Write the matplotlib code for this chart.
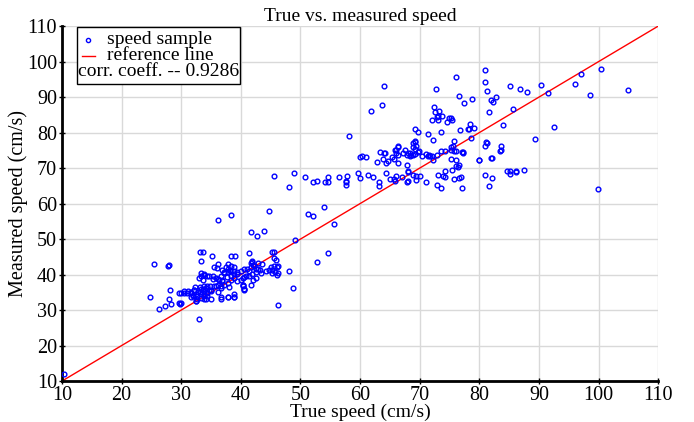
import matplotlib
matplotlib.use('Agg')
import matplotlib.pyplot as plt
from matplotlib.lines import Line2D
from matplotlib.patches import Rectangle
import numpy as np

plt.rcParams['font.family'] = ['Liberation Serif', 'DejaVu Serif']

# (true speed, measured speed) pairs
samples = [
    (10.3, 12.0),
    # low-speed cluster
    (24.8, 33.6), (25.5, 43.0), (26.3, 30.4), (27.2, 31.2), (27.9, 33.1), (28.3, 31.6), (28.2, 35.6),
    (27.8, 42.5), (28.0, 42.8), (29.7, 32.1), (29.8, 31.7), (29.6, 34.7), (30.0, 34.7), (30.4, 35.3),
    (31.0, 34.8), (31.7, 35.0), (32.3, 36.5), (33.1, 36.6), (32.1, 35.6), (32.4, 34.6), (32.9, 35.0),
    (33.3, 34.4), (33.8, 35.3), (34.4, 33.9), (34.1, 33.2), (33.3, 36.0), (33.8, 36.8), (34.6, 35.8),
    (33.0, 27.5), (33.2, 46.3), (33.6, 46.3), (33.4, 43.8), (35.1, 45.2), (38.4, 45.2), (39.0, 45.2),
    (41.3, 46.1), (41.8, 43.5), (41.9, 43.8), (45.5, 46.3), (31.7, 33.6), (31.9, 34.2), (32.4, 32.5),
    (32.7, 33.1), (35.5, 42.2), (36.1, 43.1), (36.0, 41.8), (37.8, 43.1), (38.3, 42.5), (38.8, 42.2),
    (38.2, 41.4), (36.9, 41.2), (37.2, 40.5), (37.8, 40.7), (38.9, 40.9), (39.4, 40.3), (41.7, 43.3),
    (42.1, 42.8), (42.8, 43.3), (43.6, 43.1), (43.2, 41.4), (42.5, 41.6), (41.4, 40.9), (45.0, 42.2),
    (45.6, 42.5), (46.1, 42.2), (45.3, 40.5), (46.1, 40.0), (46.3, 40.5), (33.3, 40.5), (33.9, 40.0),
    (33.0, 39.1), (33.7, 38.6), (34.4, 39.5), (35.3, 39.7), (35.8, 39.1), (36.4, 38.4), (36.9, 38.6),
    (37.2, 37.2), (37.8, 37.7), (36.6, 36.7), (38.3, 38.6), (38.9, 39.1), (39.4, 38.1), (40.3, 39.1),
    (40.8, 39.5), (31.1, 35.3), (31.7, 34.8), (32.2, 35.8), (32.0, 33.9), (30.5, 34.8), (32.7, 33.9),
    (33.3, 33.4), (33.9, 34.4), (34.4, 34.8), (35.0, 35.8), (34.2, 36.2), (34.9, 36.7), (35.5, 36.7),
    (36.1, 37.2), (36.6, 36.2), (32.5, 32.5), (33.9, 33.0), (35.0, 33.1), (36.6, 33.1), (37.8, 33.7),
    (38.9, 33.7), (40.3, 36.7), (40.5, 35.8), (42.0, 38.6), (42.5, 39.1), (43.4, 40.5), (44.2, 40.9),
    (44.7, 41.4), (41.7, 37.2), (30.0, 32.0), (46.3, 31.4), (40.0, 38.5), (40.4, 37.1), (40.6, 35.9),
    (37.5, 42.2), (37.9, 41.7), (38.2, 41.0), (37.2, 40.6), (36.7, 39.6), (36.2, 38.7), (36.9, 38.2),
    (37.7, 39.2), (38.3, 39.6), (38.9, 40.1), (39.4, 40.6), (40.0, 41.0), (40.6, 41.5), (41.0, 41.7),
    (41.7, 42.2), (42.2, 42.4), (42.8, 41.7), (42.5, 40.6), (41.9, 40.1), (41.4, 39.6), (40.6, 39.2),
    (34.4, 36.8), (35.0, 35.4), (33.9, 34.0), (36.1, 35.0), (36.7, 33.6), (37.8, 33.8), (38.9, 34.5),
    (38.8, 33.8), (40.6, 35.9), (40.4, 37.0), (38.1, 36.4), (35.8, 36.8), (33.6, 35.9), (33.1, 35.0),
    (34.7, 39.6), (35.3, 38.7), (33.9, 40.1), (33.3, 39.6),
    # between the clusters
    (36.1, 55.4), (38.4, 56.7), (44.7, 57.8), (51.2, 57.1), (41.7, 51.9), (42.7, 50.8), (43.9, 52.3),
    (49.1, 49.8), (45.3, 46.4), (45.6, 44.6), (45.9, 44.1), (46.3, 42.3), (45.2, 41.4), (45.7, 40.7),
    (48.1, 41.0), (48.8, 36.3), (52.1, 56.4), (54.0, 59.1), (55.6, 54.3), (54.6, 46.2), (52.8, 43.5),
    # y ~ 65-70 band
    (45.5, 67.8), (49.0, 68.7), (48.1, 64.6), (50.7, 67.5), (52.1, 66.2), (52.8, 66.5), (54.2, 66.1),
    (54.6, 66.0), (54.7, 67.5), (56.5, 67.5), (57.6, 66.4), (57.8, 67.8), (57.7, 65.3), (57.6, 66.0),
    (59.7, 68.7), (60.0, 67.1), (61.3, 68.1), (62.1, 67.5), (63.1, 66.2), (63.2, 65.0), (64.3, 68.6),
    (65.0, 66.9), (65.7, 67.0), (66.1, 67.8), (65.8, 66.3), (67.1, 67.5), (68.0, 66.3), (67.9, 70.8),
    (68.1, 68.9), (67.8, 66.2), (68.0, 69.1), (68.9, 68.0), (73.1, 68.1), (73.9, 67.7), (69.4, 67.7),
    (70.0, 67.7), (69.4, 66.7), (71.1, 66.2), (72.9, 65.3), (73.6, 64.4), (74.3, 67.6), (74.3, 69.1),
    (75.5, 69.4), (76.5, 70.3), (76.6, 70.8), (76.6, 67.3), (77.0, 67.6), (77.1, 64.4), (75.7, 67.0),
    (80.0, 72.2), (80.9, 68.2), (81.6, 64.9), (82.2, 67.2), (82.1, 72.9), (84.6, 69.3), (85.2, 69.1),
    (85.2, 68.4), (86.1, 69.2), (86.2, 68.8), (87.5, 69.5), (99.9, 64.2),
    # high-speed cluster
    (58.2, 79.0), (61.8, 86.2), (63.6, 87.9), (64.1, 93.0), (72.7, 92.3), (76.1, 95.8), (76.6, 90.3),
    (77.4, 88.3), (72.4, 87.1), (73.3, 86.0), (72.9, 84.5), (73.8, 84.8), (72.1, 83.5), (73.0, 83.5),
    (75.0, 84.0), (75.4, 83.5), (74.6, 82.9), (75.3, 84.2), (76.7, 80.8), (78.1, 81.0), (72.5, 85.9),
    (73.1, 84.7), (69.2, 81.0), (69.7, 80.2), (71.4, 79.7), (72.2, 78.0), (73.6, 80.2), (75.8, 77.7),
    (77.1, 74.5), (74.2, 74.7), (75.2, 75.9), (69.2, 77.6), (69.4, 76.1), (68.9, 75.9), (67.5, 75.1),
    (66.4, 75.9), (66.0, 75.1), (66.4, 73.7), (65.4, 73.1), (65.7, 72.7), (64.2, 74.4), (63.3, 74.5),
    (63.8, 72.6), (62.8, 71.6), (64.4, 71.4), (64.7, 72.1), (60.0, 73.1), (60.4, 73.3), (61.0, 73.0),
    (67.2, 74.2), (67.9, 73.8), (68.3, 74.4), (68.4, 73.3), (68.8, 73.8), (69.3, 74.0), (69.7, 74.6),
    (70.4, 73.3), (71.1, 74.0), (71.4, 73.5), (71.7, 73.3), (72.2, 72.4), (66.4, 71.4), (75.8, 74.7),
    (76.1, 72.4), (76.1, 70.5), (71.6, 73.7), (72.0, 73.3), (72.9, 73.7), (73.6, 74.7), (75.3, 75.1),
    (76.1, 74.7), (77.3, 74.4), (75.6, 76.1), (75.2, 72.5), (64.1, 74.4), (65.8, 75.1), (66.1, 74.2),
    (66.4, 76.1), (68.0, 74.2), (68.6, 73.7), (69.2, 75.3), (69.9, 74.7), (68.9, 77.0), (69.3, 77.5),
    (81.3, 77.0), (80.9, 76.3), (83.4, 74.7), (83.7, 76.2), (83.6, 75.0), (79.9, 72.2), (82.0, 72.9),
    (77.2, 74.6), (81.2, 77.3), (78.6, 78.4), (78.4, 82.4), (78.3, 80.9), (79.1, 81.2), (78.8, 89.4),
    (80.9, 97.7), (81.0, 94.3), (81.3, 91.8), (81.9, 89.2), (82.3, 88.5), (82.8, 89.9), (81.6, 85.8),
    (85.2, 93.0), (86.9, 92.3), (88.0, 91.5), (90.4, 93.5), (91.6, 91.1), (96.1, 93.8), (97.1, 96.5),
    (100.5, 98.0), (98.6, 90.7), (104.9, 91.9), (84.0, 82.2), (85.7, 86.8), (89.3, 78.2), (92.6, 81.6),
]
true_speed = [s[0] for s in samples]
measured_speed = [s[1] for s in samples]

ref_line = [10, 110]
corr_label = 'corr. coeff. -- 0.9286'

fig = plt.figure(figsize=(6.94, 4.22), dpi=100)
ax = fig.add_axes([0.0893, 0.097, 0.859, 0.841])

ax.plot(ref_line, ref_line, color='red', linewidth=1, zorder=2)
ax.plot(true_speed, measured_speed, linestyle='none', marker='o', markersize=3.4,
        markerfacecolor='none', markeredgecolor='blue', markeredgewidth=1, zorder=3)

ax.set_xlim(10, 110)
ax.set_ylim(10, 110)
ax.set_xticks(np.arange(10, 111, 10))
ax.set_yticks(np.arange(10, 111, 10))
ax.grid(True, color='#d9d9d9', linewidth=1)
ax.set_axisbelow(True)
for side in ['top', 'right']:
    ax.spines[side].set_visible(False)
for side in ['left', 'bottom']:
    ax.spines[side].set_linewidth(2)
ax.tick_params(direction='inout', length=5, width=1, labelsize=14.5, pad=1)

ax.set_xlabel('True speed (cm/s)', fontsize=14, labelpad=-1)
ax.set_ylabel('Measured speed (cm/s)', fontsize=14.5, labelpad=-1)
ax.set_title('True vs. measured speed', fontsize=14, pad=4)

# hand-made legend box
ax.add_patch(Rectangle((0.025, 0.837), 0.274, 0.160, transform=ax.transAxes,
                       facecolor='white', edgecolor='black', linewidth=1, zorder=5))
ax.add_line(Line2D([0.044], [0.960], transform=ax.transAxes, marker='o', markersize=3,
                   markerfacecolor='none', markeredgecolor='blue', markeredgewidth=1, zorder=6))
ax.add_line(Line2D([0.034, 0.056], [0.915, 0.915], transform=ax.transAxes,
                   color='red', linewidth=1, zorder=6))
ax.text(0.075, 0.962, 'speed sample', transform=ax.transAxes, fontsize=14,
        va='center', ha='left', zorder=6)
ax.text(0.075, 0.917, 'reference line', transform=ax.transAxes, fontsize=14,
        va='center', ha='left', zorder=6)
ax.text(0.027, 0.872, corr_label, transform=ax.transAxes, fontsize=14,
        va='center', ha='left', zorder=6)

fig.savefig('out.png', dpi=100)
